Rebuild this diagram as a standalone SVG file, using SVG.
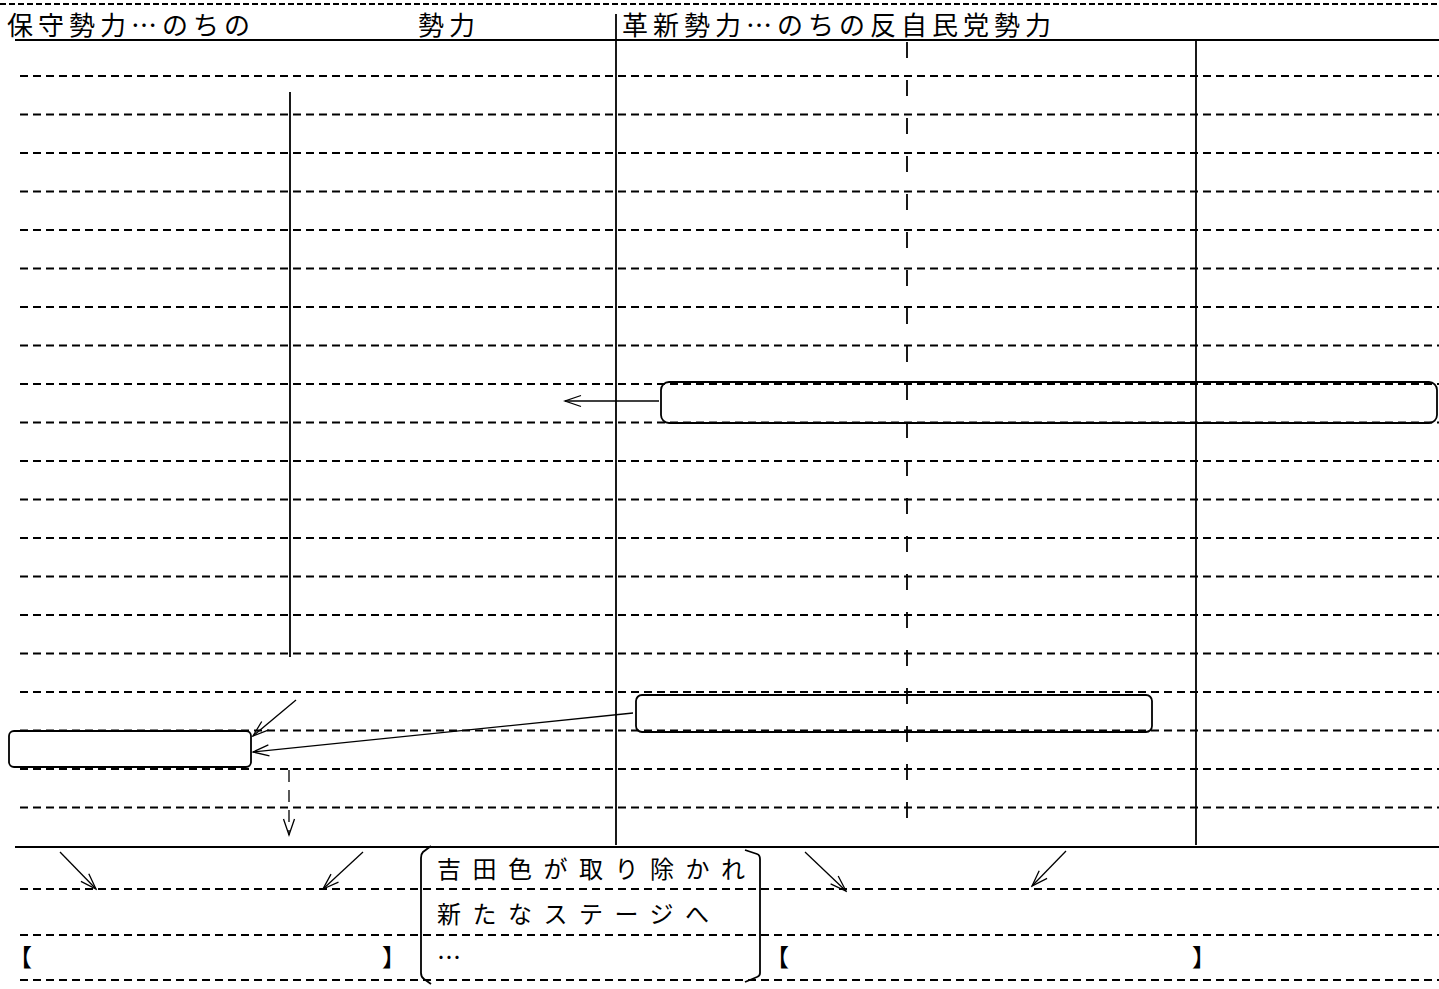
<svg xmlns="http://www.w3.org/2000/svg" width="1439" height="989" viewBox="0 0 1439 989">
<style>
.t{font-family:"Noto Sans CJK JP","Noto Sans",sans-serif;fill:#000}
.h{font-size:26px;letter-spacing:5px}
.b{font-size:24px;letter-spacing:11.5px}
.k{font-size:24px}
.dl{stroke:#000;stroke-width:1.8;stroke-dasharray:8 5;fill:none}
.sl{stroke:#000;stroke-width:1.8;fill:none}
.box{fill:none;stroke:#000;stroke-width:1.8}
.ar{stroke:#000;stroke-width:1.3;fill:none;marker-end:url(#ah)}
</style>
<defs>
<marker id="ah" viewBox="-18 -8 20 16" refX="0" refY="0" markerWidth="20" markerHeight="16" markerUnits="userSpaceOnUse" orient="auto">
<path d="M-16,-5.5 L0,0 L-16,5.5" fill="none" stroke="#000" stroke-width="1.3"/>
</marker>
</defs>
<rect width="1439" height="989" fill="#fff"/>
<g id="grid">
<line x1="0" y1="4" x2="1439" y2="4" stroke="#000" stroke-width="1.8" stroke-dasharray="6 3"/>
<line class="sl" x1="15" y1="40" x2="1439" y2="40" stroke-width="2.2"/>
<line class="sl" x1="15" y1="847" x2="1439" y2="847" stroke-width="2.2"/>
<line class="dl" x1="20" y1="76" x2="1439" y2="76"/>
<line class="dl" x1="20" y1="114.5" x2="1439" y2="114.5"/>
<line class="dl" x1="20" y1="153" x2="1439" y2="153"/>
<line class="dl" x1="20" y1="191.5" x2="1439" y2="191.5"/>
<line class="dl" x1="20" y1="230" x2="1439" y2="230"/>
<line class="dl" x1="20" y1="268.5" x2="1439" y2="268.5"/>
<line class="dl" x1="20" y1="307" x2="1439" y2="307"/>
<line class="dl" x1="20" y1="345.5" x2="1439" y2="345.5"/>
<line class="dl" x1="20" y1="384" x2="1439" y2="384"/>
<line class="dl" x1="20" y1="422.5" x2="1439" y2="422.5"/>
<line class="dl" x1="20" y1="461" x2="1439" y2="461"/>
<line class="dl" x1="20" y1="499.5" x2="1439" y2="499.5"/>
<line class="dl" x1="20" y1="538" x2="1439" y2="538"/>
<line class="dl" x1="20" y1="576.5" x2="1439" y2="576.5"/>
<line class="dl" x1="20" y1="615" x2="1439" y2="615"/>
<line class="dl" x1="20" y1="653.5" x2="1439" y2="653.5"/>
<line class="dl" x1="20" y1="692" x2="1439" y2="692"/>
<line class="dl" x1="20" y1="730.5" x2="1439" y2="730.5"/>
<line class="dl" x1="20" y1="769" x2="1439" y2="769"/>
<line class="dl" x1="20" y1="807.5" x2="1439" y2="807.5"/>
<line class="dl" x1="20" y1="889" x2="1439" y2="889"/>
<line class="dl" x1="20" y1="935" x2="1439" y2="935"/>
<line class="dl" x1="20" y1="980" x2="1439" y2="980"/>
<line class="sl" x1="616" y1="14" x2="616" y2="845"/>
<line class="sl" x1="1196" y1="40" x2="1196" y2="845"/>
<line class="sl" x1="290" y1="92" x2="290" y2="657"/>
<line x1="907" y1="42" x2="907" y2="835" stroke="#000" stroke-width="1.8" stroke-dasharray="16 22"/>
</g>
<g id="header">
<text class="t h" x="7" y="35">保守勢力…のちの</text>
<text class="t h" x="418" y="35">勢力</text>
<text class="t h" x="622" y="35">革新勢力…のちの反自民党勢力</text>
</g>
<g id="box-right"><rect class="box" x="661" y="382" width="776" height="41" rx="8"/></g>
<g id="box-middle"><rect class="box" x="636" y="695" width="516" height="37" rx="6"/></g>
<g id="box-left"><rect class="box" x="9" y="731" width="242" height="36" rx="5"/></g>
<g id="bracket-left-result">
<text class="t k" x="8" y="966">【</text>
<text class="t k" x="382" y="966">】</text>
</g>
<g id="bracket-right-result">
<text class="t k" x="765" y="966">【</text>
<text class="t k" x="1192" y="966">】</text>
</g>
<g id="note">
<path class="box" d="M431,846 L423,852 Q421,854 421,858 L421,973 Q421,977 424,979 L431,984"/>
<path class="box" d="M745,850 L757,854 Q760,855 760,859 L760,973 Q760,976 757,977 L745,982"/>
<text class="t b" x="437" y="878">吉田色が取り除かれ</text>
<text class="t b" x="437" y="923">新たなステージへ</text>
<text class="t b" x="437" y="966">…</text>
</g>
<g id="connectors">
<line class="ar" x1="659" y1="401" x2="565" y2="401"/>
<line class="ar" x1="296" y1="700" x2="253" y2="736"/>
<line class="ar" x1="633" y1="713" x2="253" y2="752"/>
<line class="ar" x1="289" y1="770" x2="289" y2="835" stroke-dasharray="12 8"/>
<line class="ar" x1="60" y1="852" x2="96" y2="889"/>
<line class="ar" x1="363" y1="852" x2="323" y2="889"/>
<line class="ar" x1="805" y1="852" x2="846" y2="891"/>
<line class="ar" x1="1066" y1="851" x2="1032" y2="886"/>
</g>
</svg>
